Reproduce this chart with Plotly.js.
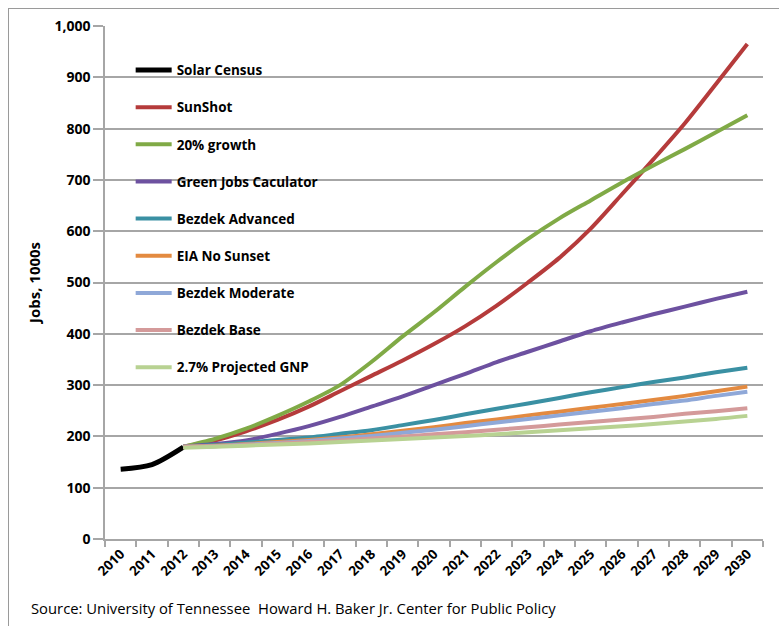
<!DOCTYPE html>
<html>
<head>
<meta charset="utf-8">
<script src="https://cdn.plot.ly/plotly-3.0.1.min.js"></script>
<style>
  html, body { margin: 0; padding: 0; background: #fff; }
  #frame { position: absolute; left: 8px; top: 8px; width: 780px; height: 630px;
           border-top: 1.5px solid #9a9a9a; border-left: 1.5px solid #9a9a9a; }
  #chart { position: absolute; left: 0; top: 0; width: 779px; height: 626px; }
</style>
</head>
<body>
<div id="frame"></div>
<div id="chart"></div>
<script>
const years = ["2010","2011","2012","2013","2014","2015","2016","2017","2018","2019","2020",
               "2021","2022","2023","2024","2025","2026","2027","2028","2029","2030"];
const projYears = years.slice(2);

const solarCensus = [136, 145, 179];
const sunShot     = [180, 192, 210, 232, 258, 288, 318, 348, 380, 415, 455, 500, 548, 605, 672, 740, 810, 887, 965];
const growth20    = [180, 195, 215, 240, 268, 300, 345, 395, 442, 492, 540, 585, 625, 660, 695, 728, 760, 793, 826];
const greenJobs   = [180, 185, 192, 205, 220, 238, 258, 278, 300, 322, 345, 365, 385, 405, 422, 438, 453, 468, 482];
const bezdekAdv   = [180, 183, 188, 193, 198, 205, 212, 222, 232, 243, 254, 264, 275, 286, 296, 306, 315, 325, 334];
const eiaNoSunset = [180, 182, 185, 189, 193, 198, 204, 211, 218, 226, 233, 241, 248, 256, 263, 271, 279, 288, 297];
const bezdekMod   = [180, 181, 184, 187, 191, 196, 201, 207, 213, 220, 227, 234, 241, 248, 255, 263, 270, 279, 287];
const bezdekBase  = [180, 181, 183, 186, 189, 192, 196, 200, 204, 208, 213, 218, 223, 228, 233, 238, 244, 249, 255];
const gnp27       = [178, 180, 182, 184, 186, 189, 192, 195, 198, 201, 204, 208, 212, 216, 220, 224, 229, 234, 240];

const yTickVals = [0, 100, 200, 300, 400, 500, 600, 700, 800, 900, 1000];
const yTickText = ["0", "100", "200", "300", "400", "500", "600", "700", "800", "900", "1,000"];

const seriesNames = ["Solar Census", "SunShot", "20% growth", "Green Jobs Caculator", "Bezdek Advanced",
                     "EIA No Sunset", "Bezdek Moderate", "Bezdek Base", "2.7% Projected GNP"];
const seriesData = [solarCensus, sunShot, growth20, greenJobs, bezdekAdv, eiaNoSunset, bezdekMod, bezdekBase, gnp27];
const colors = ["#000000", "#b53b3b", "#80aa46", "#6d51a0", "#3a90a3", "#e38a40", "#8fa8d8", "#d49a9a", "#b8d292"];
const widths = [5, 4, 4, 4, 4, 4, 4, 4, 4];

const traces = seriesNames.map((name, i) => ({
  type: "scatter",
  mode: "lines",
  name: name,
  legendgroup: "g" + i,
  x: i === 0 ? years.slice(0, 3) : projYears,
  y: seriesData[i],
  line: { color: colors[i], width: widths[i], shape: "spline", smoothing: 0.8 },
  hoverinfo: "x+y+name"
}));

const gridColor = "#a6a6a6";
const fam = "Open Sans, Noto Sans, sans-serif";

const layout = {
  width: 779, height: 626,
  margin: { l: 105, r: 16, t: 26, b: 87 },
  paper_bgcolor: "rgba(0,0,0,0)",
  plot_bgcolor: "#ffffff",
  showlegend: true,
  legend: {
    x: 0.039, xanchor: "left", y: 0.944, yanchor: "top",
    bgcolor: "rgba(0,0,0,0)",
    font: { family: fam, size: 13.5, color: "#000", weight: "bold" },
    tracegroupgap: 16.6,
    itemwidth: 36
  },
  xaxis: {
    type: "category",
    categoryorder: "array", categoryarray: years,
    range: [-0.5, 20.5],
    showgrid: false,
    showline: true, linecolor: gridColor, linewidth: 1.5,
    ticks: "outside", tickson: "boundaries", ticklen: 6, tickcolor: gridColor, tickwidth: 1.5,
    tickangle: -45,
    tickfont: { family: fam, size: 13.5, color: "#000", weight: "bold" },
    zeroline: false, fixedrange: true
  },
  yaxis: {
    range: [0, 1000],
    tickvals: yTickVals, ticktext: yTickText,
    showgrid: true, gridcolor: gridColor, gridwidth: 1.5,
    showline: true, linecolor: gridColor, linewidth: 1.5,
    ticks: "outside", ticklen: 10, tickcolor: gridColor, tickwidth: 1.5,
    tickfont: { family: fam, size: 14, color: "#000", weight: "bold" },
    zeroline: false, fixedrange: true,
    title: { text: "Jobs, 1000s", font: { family: fam, size: 15, color: "#000", weight: "bold" }, standoff: 10 }
  },
  annotations: [{
    xref: "paper", yref: "paper", x: -0.116, y: -0.112, xanchor: "left", yanchor: "top",
    text: "Source: University of Tennessee  Howard H. Baker Jr. Center for Public Policy",
    showarrow: false,
    font: { family: fam, size: 14.8, color: "#000" }
  }]
};

Plotly.newPlot("chart", traces, layout, { displayModeBar: false });
</script>
</body>
</html>
